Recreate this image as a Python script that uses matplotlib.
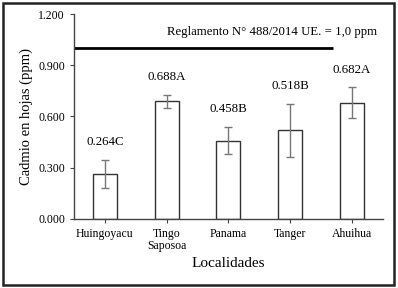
import matplotlib
matplotlib.use("Agg")
import matplotlib.pyplot as plt
from matplotlib.patches import Rectangle

localidades = ["Huingoyacu", "Tingo\nSaposoa", "Panama", "Tanger", "Ahuihua"]
cadmio = [0.264, 0.688, 0.458, 0.518, 0.682]
error = [0.083, 0.036, 0.080, 0.153, 0.088]
etiquetas = ["0.264C", "0.688A", "0.458B", "0.518B", "0.682A"]
limite = 1.0
yticks = [0.0, 0.3, 0.6, 0.9, 1.2]

plt.rcParams['font.family'] = ['Liberation Serif', 'DejaVu Serif']

fig = plt.figure(figsize=(3.98, 2.88), dpi=100)
ax = fig.add_axes([0.186, 0.24, 0.776, 0.711])

x = list(range(len(localidades)))
ax.bar(x, cadmio, width=0.39, color='white', edgecolor='#333333', linewidth=1.0, zorder=2)
ax.errorbar(x, cadmio, yerr=error, fmt='none', ecolor='#777777', elinewidth=1.0, capsize=3, capthick=1.0, zorder=3)

for xi, v, e, lab in zip(x, cadmio, error, etiquetas):
    ax.text(xi, v + e + 0.07, lab, ha='center', va='bottom', fontsize=9.3)

ax.plot([-0.5, 3.7], [limite, limite], color='black', linewidth=2.0, solid_capstyle='butt')
ax.text(2.7, 1.095, "Reglamento N° 488/2014 UE. = 1,0 ppm", ha='center', va='center', fontsize=9.2)

ax.set_xlim(-0.5, 4.5)
ax.set_ylim(0, 1.2)
ax.set_yticks(yticks)
ax.set_yticklabels([f"{t:.3f}" for t in yticks])
ax.set_xticks(x)
ax.set_xticklabels(localidades, fontsize=8.5, linespacing=1.0)
ax.tick_params(axis='y', labelsize=8.5, length=3, color='#444444')
ax.tick_params(axis='x', length=3, color='#444444')
for s in ['top', 'right']:
    ax.spines[s].set_visible(False)
for s in ['left', 'bottom']:
    ax.spines[s].set_color('#444444')
    ax.spines[s].set_linewidth(1.0)

ax.set_ylabel("Cadmio en hojas (ppm)", fontsize=10.5, labelpad=4)
ax.set_xlabel("Localidades", fontsize=11, labelpad=4)

fig.patches.append(Rectangle((0.008, 0.012), 0.982, 0.976, transform=fig.transFigure,
                             fill=False, edgecolor='#222222', linewidth=1.8))

fig.savefig("out.png", dpi=100)
